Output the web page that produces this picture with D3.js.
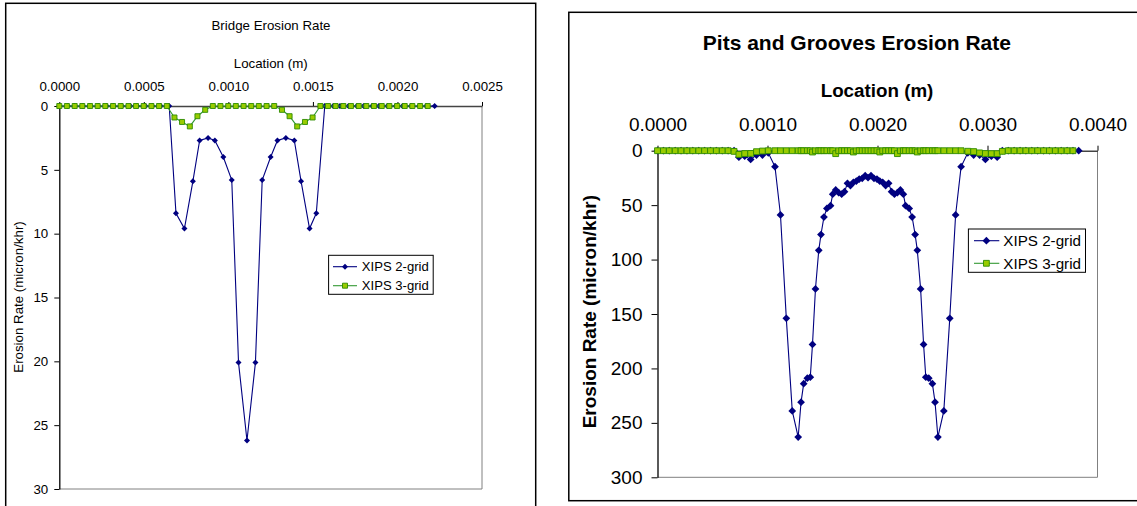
<!DOCTYPE html>
<html>
<head>
<meta charset="utf-8">
<script src="https://cdn.jsdelivr.net/npm/d3@7"></script>
<style>
  body { margin: 0; background: #fff; }
  text { font-family: "Liberation Sans", Arial, sans-serif; fill: #000; }
</style>
</head>
<body>
<div id="wrapper"></div>
<script>
// ---- Bridge chart data (location in m, erosion rate in micron/khr)
const bridgeX2 = [0, 0.00005, 0.00009, 0.00014, 0.00018, 0.00023, 0.00028, 0.00032, 0.00037, 0.00042, 0.00046, 0.00051, 0.00055, 0.00060, 0.00065,
  0.00069, 0.00074, 0.00079, 0.00083, 0.00088, 0.00092, 0.00097, 0.00102, 0.00106, 0.00111, 0.00116, 0.00120, 0.00125, 0.00129, 0.00134, 0.00139, 0.00143, 0.00148, 0.00152,
  0.00157, 0.00162, 0.00166, 0.00171, 0.00176, 0.00180, 0.00185, 0.00189, 0.00194, 0.00199, 0.00203, 0.00208, 0.00213, 0.00217, 0.00222];
const bridge2grid = [0, 0, 0, 0, 0, 0, 0, 0, 0, 0, 0, 0, 0, 0, 0,
  8.4, 9.6, 5.9, 2.7, 2.5, 2.7, 4.0, 5.8, 20.1, 26.2, 20.1, 5.8, 4.0, 2.7, 2.5, 2.7, 5.9, 9.6, 8.4,
  0, 0, 0, 0, 0, 0, 0, 0, 0, 0, 0, 0, 0, 0, 0];
const bridgeX3 = [0, 0.000045, 0.000091, 0.000136, 0.000182, 0.000227, 0.000272, 0.000318, 0.000363, 0.000409, 0.000454, 0.000499, 0.000545, 0.000590, 0.000636,
  0.000681, 0.000726, 0.000772, 0.000817, 0.000863, 0.000908, 0.000953, 0.000999, 0.001044, 0.001090, 0.001135, 0.001180, 0.001226, 0.001271, 0.001317, 0.001362, 0.001407, 0.001453, 0.001498,
  0.001544, 0.001589, 0.001634, 0.001680, 0.001725, 0.001771, 0.001816, 0.001861, 0.001907, 0.001952, 0.001998, 0.002043, 0.002088, 0.002134, 0.002179];
const bridge3grid = [0, 0, 0, 0, 0, 0, 0, 0, 0, 0, 0, 0, 0, 0, 0,
  0.9, 1.25, 1.6, 0.8, 0.3, 0, 0, 0, 0, 0, 0, 0, 0, 0, 0.3, 0.8, 1.6, 1.25, 0.9,
  0, 0, 0, 0, 0, 0, 0, 0, 0, 0, 0, 0, 0, 0, 0];
const bridgeXTicks = [0, 0.0005, 0.001, 0.0015, 0.002, 0.0025];
const bridgeYTicks = [0, 5, 10, 15, 20, 25, 30];

// ---- Pits and grooves chart data (both grids share the locations)
const pitsX = [0, 0.000054, 0.000107, 0.000161, 0.000214, 0.000268, 0.000321, 0.000375, 0.000428, 0.000482,
  0.000535, 0.000589, 0.000642, 0.000696, 0.000740, 0.000793, 0.000847, 0.000900, 0.000954, 0.001007,
  0.001068, 0.001118, 0.001171, 0.001225, 0.001279, 0.001305, 0.001329, 0.001362, 0.001389, 0.001409,
  0.001436, 0.001466, 0.001486, 0.001513, 0.001540, 0.001573, 0.001593, 0.001620, 0.001647, 0.001674,
  0.001700, 0.001727, 0.001754, 0.001781, 0.001807, 0.001834, 0.001861, 0.001888, 0.001914, 0.001941,
  0.001968, 0.001995, 0.002021, 0.002047, 0.002074, 0.002101, 0.002128, 0.002154, 0.002181, 0.002208,
  0.002235, 0.002255, 0.002288, 0.002315, 0.002342, 0.002362, 0.002392, 0.002419, 0.002439, 0.002466,
  0.002499, 0.002523, 0.002549, 0.002603, 0.002657, 0.002710, 0.002760, 0.002821, 0.002874, 0.002928,
  0.002981, 0.003035, 0.003088, 0.003135, 0.003189, 0.003242, 0.003296, 0.003349, 0.003403, 0.003456,
  0.003510, 0.003563, 0.003617, 0.003670, 0.003724, 0.003777, 0.003829];
const pits2grid = [0, 0, 0, 0, 0, 0, 0, 0, 0, 0,
  0, 0, 0, 0, 6, 5, 8, 4, 4, 2,
  14.7, 59, 154, 239, 263, 231, 214, 209, 208, 178,
  127, 91.5, 77, 61, 53, 50.5, 40, 36, 38.6, 40,
  37.6, 30, 32, 29, 28, 26, 25.4, 23, 24.8, 23,
  25.4, 26, 28, 29, 32, 30, 37.6, 40, 38.6, 36,
  40, 50.5, 53, 61, 77, 91.5, 127, 178, 208, 209,
  214, 231, 263, 239, 154, 59, 14.7, 2, 4, 4,
  8, 5, 6, 0, 0, 0, 0, 0, 0, 0,
  0, 0, 0, 0, 0, 0, 0];
const pits3grid = [0, 0, 0, 0, 0, 0, 0, 0, 0, 0,
  0, 0, 0, 0.6, 3.4, 2.6, 2.5, 0.9, 0.3, 0,
  0, 0, 0, 0, 0, 0, 0, 0, 0, 1.2,
  0, 0, 0, 0, 0, 0, 0, 2.7, 0, 0,
  0, 0, 0, 1.2, 0, 0, 0, 0, 0, 0,
  0, 0, 1.2, 0, 0, 0, 0, 0, 2.7, 0,
  0, 0, 0, 0, 0, 1.2, 0, 0, 0, 0,
  0, 0, 0, 0, 0, 0, 0, 0.5, 0.8, 2.0,
  2.6, 2.7, 2.7, 0.6, 0, 0, 0, 0, 0, 0,
  0, 0, 0, 0, 0, 0, null];
const pitsXTicks = [0, 0.001, 0.002, 0.003, 0.004];
const pitsYTicks = [0, 50, 100, 150, 200, 250, 300];

const seriesNames = ["XIPS 2-grid", "XIPS 3-grid"];

const svg = d3.select("#wrapper")
  .append("svg")
  .attr("width", 1137)
  .attr("height", 506)
  .style("display", "block");

svg.append("rect").attr("width", 1137).attr("height", 506).attr("fill", "#fff");

function drawChart(cfg) {
  const g = svg.append("g");

  // outer frame
  g.append("rect")
    .attr("x", cfg.frame[0]).attr("y", cfg.frame[1])
    .attr("width", cfg.frame[2]).attr("height", cfg.frame[3])
    .attr("fill", "none").attr("stroke", "#000").attr("stroke-width", 1.5);

  const x = d3.scaleLinear().domain(cfg.xDomain).range(cfg.xRange);
  const y = d3.scaleLinear().domain(cfg.yDomain).range(cfg.yRange);

  // plot area border (right + bottom, grey)
  g.append("path")
    .attr("d", `M${x.range()[1]},${y.range()[0]}V${y.range()[1]}H${x.range()[0]}`)
    .attr("fill", "none").attr("stroke", "#808080").attr("stroke-width", 1);

  // axes
  const xAxis = g.append("g")
    .attr("transform", `translate(0,${y(0)})`)
    .call(d3.axisTop(x).tickValues(cfg.xTicks).tickFormat(d3.format(".4f"))
      .tickSizeInner(cfg.xTickLen).tickSizeOuter(0).tickPadding(cfg.xPad));
  const yAxis = g.append("g")
    .attr("transform", `translate(${x(0)},0)`)
    .call(d3.axisLeft(y).tickValues(cfg.yTicks)
      .tickSizeInner(cfg.yTickLen).tickSizeOuter(0).tickPadding(cfg.yPad));

  [xAxis, yAxis].forEach(a => {
    a.select(".domain").attr("stroke", "#000").attr("stroke-width", 1.3);
    a.selectAll(".tick line").attr("stroke", "#000");
    a.selectAll(".tick text")
      .style("font-family", '"Liberation Sans", Arial, sans-serif')
      .style("font-size", cfg.tickFont + "px")
      .attr("fill", "#000");
  });
  xAxis.select(".domain").attr("stroke", "#444").attr("stroke-width", 1.6);

  // titles
  g.append("text")
    .attr("x", cfg.title[0]).attr("y", cfg.title[1]).attr("dy", "0.35em")
    .attr("text-anchor", "middle")
    .style("font-size", cfg.titleFont + "px")
    .style("font-weight", cfg.bold ? "bold" : "normal")
    .text(cfg.titleText);

  g.append("text")
    .attr("x", cfg.xTitle[0]).attr("y", cfg.xTitle[1]).attr("dy", "0.35em")
    .attr("text-anchor", "middle")
    .style("font-size", cfg.axisFont + "px")
    .style("font-weight", cfg.bold ? "bold" : "normal")
    .text("Location (m)");

  g.append("text")
    .attr("transform", `translate(${cfg.yTitle[0]},${cfg.yTitle[1]}) rotate(-90)`)
    .attr("dy", "0.35em")
    .attr("text-anchor", "middle")
    .style("font-size", cfg.yAxisFont + "px")
    .style("font-weight", cfg.bold ? "bold" : "normal")
    .text("Erosion Rate (micron/khr)");

  // series
  const line = d3.line()
    .defined(d => d[1] != null)
    .x(d => x(d[0]))
    .y(d => y(d[1]));

  const diamond = d3.symbol().type(d3.symbolSquare).size(cfg.diamondSize);
  const square = d3.symbol().type(d3.symbolSquare).size(cfg.squareSize);

  const s2 = d3.zip(cfg.x2, cfg.v2);
  const s3 = d3.zip(cfg.x3, cfg.v3).filter(d => d[1] != null);

  g.append("path").datum(s2)
    .attr("d", line).attr("fill", "none")
    .attr("stroke", "#000080").attr("stroke-width", 1.1);
  g.selectAll(".d2").data(s2).enter().append("path")
    .attr("class", "d2")
    .attr("d", diamond)
    .attr("transform", d => `translate(${x(d[0])},${y(d[1])}) rotate(45)`)
    .attr("fill", "#000080");

  g.append("path").datum(s3)
    .attr("d", line).attr("fill", "none")
    .attr("stroke", "#339933").attr("stroke-width", 1.1);
  g.selectAll(".d3").data(s3).enter().append("path")
    .attr("class", "d3")
    .attr("d", square)
    .attr("transform", d => `translate(${x(d[0])},${y(d[1])})`)
    .attr("fill", "#99cc00").attr("stroke", "#2e8b00").attr("stroke-width", 0.9);

  // legend
  const lg = cfg.legend;
  g.append("rect")
    .attr("x", lg.x).attr("y", lg.y).attr("width", lg.w).attr("height", lg.h)
    .attr("fill", "#fff").attr("stroke", "#000").attr("stroke-width", 1);
  seriesNames.forEach((name, i) => {
    const ry = lg.rows[i];
    g.append("line")
      .attr("x1", lg.lineX[0]).attr("x2", lg.lineX[1]).attr("y1", ry).attr("y2", ry)
      .attr("stroke", i === 0 ? "#000080" : "#339933").attr("stroke-width", 1.1);
    if (i === 0) {
      g.append("path").attr("d", diamond)
        .attr("transform", `translate(${lg.markX},${ry}) rotate(45)`)
        .attr("fill", "#000080");
    } else {
      g.append("path").attr("d", square)
        .attr("transform", `translate(${lg.markX},${ry})`)
        .attr("fill", "#99cc00").attr("stroke", "#2e8b00").attr("stroke-width", 0.9);
    }
    g.append("text")
      .attr("x", lg.textX).attr("y", ry).attr("dy", "0.35em")
      .style("font-size", lg.font + "px")
      .text(name);
  });
}

drawChart({
  frame: [5.7, 3.3, 530, 510],
  xDomain: [0, 0.0025], xRange: [59.3, 482],
  yDomain: [0, 30], yRange: [106, 489],
  xTicks: bridgeXTicks, yTicks: bridgeYTicks,
  xTickLen: 4, xPad: 11.3, yTickLen: 5, yPad: 6.1,
  tickFont: 13.3, titleFont: 13.3, axisFont: 13.3, yAxisFont: 13.3, bold: false,
  title: [271, 25.3], titleText: "Bridge Erosion Rate",
  xTitle: [270.7, 63], yTitle: [18.6, 297],
  x2: bridgeX2, v2: bridge2grid, x3: bridgeX3, v3: bridge3grid,
  diamondSize: 18, squareSize: 25,
  legend: { x: 328.6, y: 255.3, w: 104.6, h: 39, rows: [266.7, 285.7],
            lineX: [333, 357], markX: 345, textX: 361.8, font: 13.1 }
});

drawChart({
  frame: [568.8, 12.3, 580, 488.4],
  xDomain: [0, 0.004], xRange: [657.5, 1097.5],
  yDomain: [0, 300], yRange: [150.7, 477.3],
  xTicks: pitsXTicks, yTicks: pitsYTicks,
  xTickLen: 5, xPad: 15, yTickLen: 6, yPad: 9,
  tickFont: 19, titleFont: 21, axisFont: 18.8, yAxisFont: 19, bold: true,
  title: [856.9, 42.3], titleText: "Pits and Grooves Erosion Rate",
  xTitle: [877, 90.7], yTitle: [589.4, 311.7],
  x2: pitsX, v2: pits2grid, x3: pitsX, v3: pits3grid,
  diamondSize: 30, squareSize: 34,
  legend: { x: 968.4, y: 229, w: 117.1, h: 43.3, rows: [240.7, 263.3],
            lineX: [974, 999.3], markX: 986.4, textX: 1003.3, font: 15.2 }
});
</script>
</body>
</html>
